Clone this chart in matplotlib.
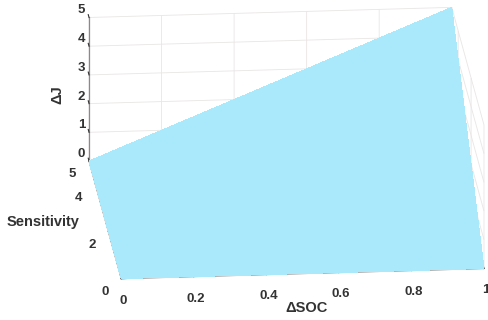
import numpy as np
import matplotlib
matplotlib.use('Agg')
import matplotlib.pyplot as plt

# ---- data ----
soc_vals = [0.0, 1.0]          # ΔSOC
sens_vals = [0.0, 5.0]         # Sensitivity
dJ_vals = [[0.0, 0.0],         # rows: sensitivity, cols: ΔSOC
           [0.0, 5.0]]
x_ticks = [0, 0.2, 0.4, 0.6, 0.8, 1]
x_ticklabels = ['0', '0.2', '0.4', '0.6', '0.8', '1']
y_ticks = [0, 2, 4, 5]
z_ticks = [0, 1, 2, 3, 4, 5]

plt.rcParams['font.family'] = ['Liberation Sans', 'DejaVu Sans']
plt.rcParams['font.weight'] = 'bold'

W, H = 488, 320
fig = plt.figure(figsize=(W / 100, H / 100), dpi=100)
S = 525.0
cx, cy = 286.5, 177.0
left = cx - 0.5135 * S
bottom = cy - 0.5135 * S
ax = fig.add_axes([left / W, bottom / H, S / W, S / H], projection='3d',
                  proj_type='ortho')

X, Y = np.meshgrid(soc_vals, sens_vals)
Z = np.array(dJ_vals)
ax.plot_surface(X, Y, Z, color='#aae9fb', shade=False, edgecolor='none',
                linewidth=0, antialiased=False)

ax.set_xlim(0, 1, view_margin=0)
ax.set_ylim(0, 5, view_margin=0)
ax.set_zlim(0, 5, view_margin=0)
ax.set_box_aspect((363, 369, 151))
ax.view_init(elev=18.6, azim=-95)

ax.set_xticks(x_ticks)
ax.set_xticklabels(x_ticklabels)
ax.set_yticks(y_ticks)
ax.set_zticks(z_ticks)

tcol = '#333333'
for axis in (ax.xaxis, ax.yaxis, ax.zaxis):
    axis.set_pane_color((1, 1, 1, 0))
    axis.pane.set_edgecolor((1, 1, 1, 0))
    axis.line.set_color('#8a8a8a')
    axis.line.set_linewidth(0.9)
    axis._axinfo['grid']['color'] = '#e9e5e5'
    axis._axinfo['grid']['linewidth'] = 0.6
    axis._axinfo['tick']['inward_factor'] = 0.0
    axis._axinfo['tick']['outward_factor'] = 0.3
    axis._axinfo['tick']['color'] = '#8a8a8a'
# MATLAB-like: z ticks point along the Sensitivity direction
ax.zaxis._get_tickdir = lambda *a, **k: 1
ax.tick_params(axis='x', labelsize=9.5, colors=tcol, pad=4)
ax.tick_params(axis='y', labelsize=9.5, colors=tcol, pad=1)
ax.tick_params(axis='z', labelsize=9.5, colors=tcol, pad=-6)
for t in ax.zaxis.get_major_ticks():
    t.label1.set_horizontalalignment('right')
    t.label1.set_verticalalignment('bottom')

ax.set_xlabel('ΔSOC', fontsize=10.5, fontweight='bold', color=tcol, labelpad=5)
ax.set_ylabel('')
ax.set_zlabel('')
fig.text(43 / W, 1 - 222 / H, 'Sensitivity', fontsize=10.5, fontweight='bold',
         color=tcol, ha='center', va='center')
fig.text(57 / W, 1 - 95 / H, 'ΔJ', fontsize=10.5, fontweight='bold',
         color=tcol, ha='center', va='center', rotation=90)

fig.savefig('out.png', dpi=100)
